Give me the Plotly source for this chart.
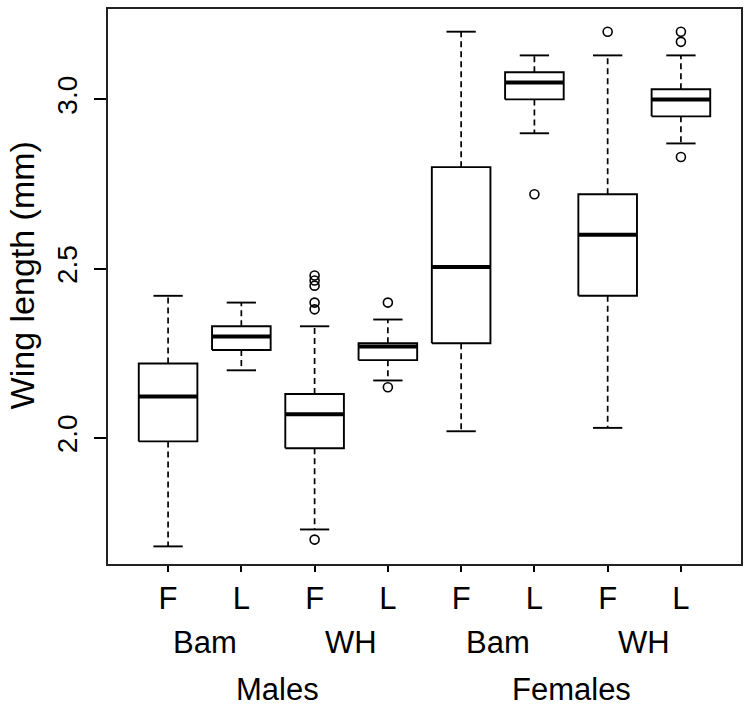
import plotly.graph_objects as go

# ---- data ----
sex_groups = ["Males", "Females"]
site_groups = ["Bam", "WH", "Bam", "WH"]
tick_labels = ["F", "L", "F", "L", "F", "L", "F", "L"]
positions = [1, 2, 3, 4, 5, 6, 7, 8]

lower_whisker = [1.68, 2.20, 1.73, 2.17, 2.02, 2.90, 2.03, 2.87]
q1 = [1.99, 2.26, 1.97, 2.23, 2.28, 3.00, 2.42, 2.95]
median = [2.123, 2.30, 2.07, 2.27, 2.505, 3.05, 2.60, 3.00]
q3 = [2.22, 2.33, 2.13, 2.28, 2.80, 3.08, 2.72, 3.03]
upper_whisker = [2.42, 2.40, 2.33, 2.35, 3.20, 3.13, 3.13, 3.13]
outliers = [
    [],
    [],
    [2.48, 2.465, 2.45, 2.40, 2.38, 1.70],
    [2.40, 2.15],
    [],
    [2.72],
    [3.20],
    [3.20, 3.17, 2.83],
]

y_ticks = [2.0, 2.5, 3.0]
y_tick_text = ["2.0", "2.5", "3.0"]
y_range = [1.628, 3.267]
x_range = [0.18, 8.82]
y_title = "Wing length (mm)"

BOX_HALF = 0.4
CAP_HALF = 0.2

# ---- build geometry through data coordinates ----
box_x, box_y = [], []
med_x, med_y = [], []
wh_x, wh_y = [], []
cap_x, cap_y = [], []
out_x, out_y = [], []
for i, p in enumerate(positions):
    l, r = p - BOX_HALF, p + BOX_HALF
    box_x += [l, r, r, l, l, None]
    box_y += [q1[i], q1[i], q3[i], q3[i], q1[i], None]
    med_x += [l, r, None]
    med_y += [median[i], median[i], None]
    wh_x += [p, p, None, p, p, None]
    wh_y += [q3[i], upper_whisker[i], None, q1[i], lower_whisker[i], None]
    cap_x += [p - CAP_HALF, p + CAP_HALF, None, p - CAP_HALF, p + CAP_HALF, None]
    cap_y += [upper_whisker[i], upper_whisker[i], None, lower_whisker[i], lower_whisker[i], None]
    for o in outliers[i]:
        out_x.append(p)
        out_y.append(o)

fig = go.Figure()
fig.add_trace(go.Scatter(x=wh_x, y=wh_y, mode="lines",
                         line=dict(color="black", width=1.7, dash="6px,4px"),
                         hoverinfo="skip", showlegend=False))
fig.add_trace(go.Scatter(x=cap_x, y=cap_y, mode="lines",
                         line=dict(color="black", width=1.9),
                         hoverinfo="skip", showlegend=False))
fig.add_trace(go.Scatter(x=box_x, y=box_y, mode="lines",
                         line=dict(color="black", width=1.9),
                         hoverinfo="skip", showlegend=False))
fig.add_trace(go.Scatter(x=med_x, y=med_y, mode="lines",
                         line=dict(color="black", width=4),
                         hoverinfo="skip", showlegend=False))
fig.add_trace(go.Scatter(x=out_x, y=out_y, mode="markers",
                         marker=dict(symbol="circle-open", size=9, color="black",
                                     line=dict(width=1.6)),
                         hoverinfo="skip", showlegend=False))

FONT = "Liberation Sans, Arial, sans-serif"
FS = 31

annotations = []
for k, name in enumerate(site_groups):
    annotations.append(dict(x=positions[2 * k] + 0.5, y=0, xref="x", yref="paper",
                            text=name, showarrow=False, yanchor="middle",
                            yshift=-78, font=dict(family=FONT, size=FS, color="black")))
for k, name in enumerate(sex_groups):
    annotations.append(dict(x=positions[4 * k] + 1.5, y=0, xref="x", yref="paper",
                            text=name, showarrow=False, yanchor="middle",
                            yshift=-125, font=dict(family=FONT, size=FS, color="black")))
annotations.append(dict(x=0, y=0.52, xref="paper", yref="paper", text=y_title,
                        showarrow=False, textangle=-90, xanchor="center", yanchor="middle",
                        xshift=-86, font=dict(family=FONT, size=34, color="black")))

fig.update_layout(
    width=750, height=708,
    margin=dict(l=108, r=8, t=7, b=144),
    plot_bgcolor="white", paper_bgcolor="white",
    font=dict(family=FONT, size=FS, color="black"),
    annotations=annotations,
    xaxis=dict(range=x_range, tickmode="array", tickvals=positions, ticktext=tick_labels,
               showgrid=False, zeroline=False, showline=True, linecolor="#222",
               linewidth=2, mirror=True, ticks="outside", ticklen=6, tickwidth=1.5,
               tickcolor="black", tickfont=dict(family=FONT, size=FS, color="black")),
    yaxis=dict(range=y_range, tickmode="array", tickvals=y_ticks, ticktext=y_tick_text,
               showgrid=False, zeroline=False, showline=True, linecolor="#222",
               linewidth=2, mirror=True, ticks="outside", ticklen=12, tickwidth=1.5,
               tickcolor="black", tickangle=-90, ticklabelstandoff=6,
               tickfont=dict(family=FONT, size=28, color="black")),
)

fig.write_html("out.html", config={"displayModeBar": False},
               post_script="document.body.style.margin='0';document.body.style.padding='0';")
